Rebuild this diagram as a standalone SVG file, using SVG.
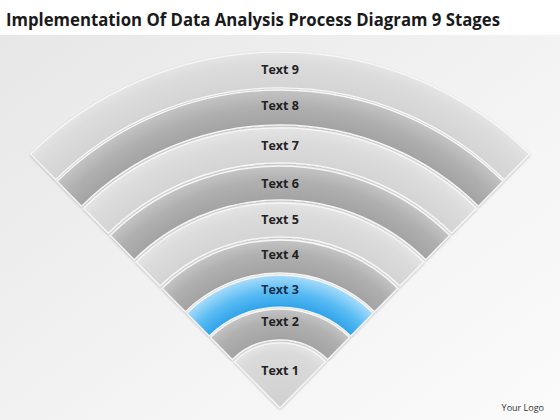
<svg xmlns="http://www.w3.org/2000/svg" width="560" height="420" viewBox="0 0 560 420">
<style>
.lbl{font-family:"Open Sans","Liberation Sans",sans-serif;font-weight:700;font-size:12.5px;fill:#222;text-anchor:middle}
.band{stroke:#f7f7f7;stroke-width:1.3;stroke-linejoin:round;filter:url(#sh)}
</style>
<defs>
<linearGradient id="bg" x1="0" y1="0" x2="1" y2="1">
<stop offset="0" stop-color="#e6e6e6"/><stop offset="0.6" stop-color="#f4f4f4"/><stop offset="1" stop-color="#fbfbfb"/>
</linearGradient>
<filter id="sh" x="-10%" y="-10%" width="120%" height="130%">
<feDropShadow dx="0" dy="1" stdDeviation="1" flood-color="#000" flood-opacity="0.25"/>
</filter>
<radialGradient id="g9" gradientUnits="userSpaceOnUse" cx="280" cy="408" r="356"><stop offset="0.899" stop-color="#d4d4d4"/><stop offset="0.97" stop-color="#dcdcdc"/><stop offset="1" stop-color="#e4e4e4"/></radialGradient>
<radialGradient id="g8" gradientUnits="userSpaceOnUse" cx="280" cy="408" r="318"><stop offset="0.89" stop-color="#a3a3a3"/><stop offset="0.95" stop-color="#b0b0b0"/><stop offset="1" stop-color="#c4c4c4"/></radialGradient>
<radialGradient id="g7" gradientUnits="userSpaceOnUse" cx="280" cy="408" r="280"><stop offset="0.875" stop-color="#d4d4d4"/><stop offset="0.96" stop-color="#dcdcdc"/><stop offset="1" stop-color="#e4e4e4"/></radialGradient>
<radialGradient id="g6" gradientUnits="userSpaceOnUse" cx="280" cy="408" r="242"><stop offset="0.86" stop-color="#a3a3a3"/><stop offset="0.94" stop-color="#b0b0b0"/><stop offset="1" stop-color="#c4c4c4"/></radialGradient>
<radialGradient id="g5" gradientUnits="userSpaceOnUse" cx="280" cy="408" r="205"><stop offset="0.834" stop-color="#d4d4d4"/><stop offset="0.95" stop-color="#dcdcdc"/><stop offset="1" stop-color="#e4e4e4"/></radialGradient>
<radialGradient id="g4" gradientUnits="userSpaceOnUse" cx="280" cy="408" r="168"><stop offset="0.804" stop-color="#a3a3a3"/><stop offset="0.92" stop-color="#b0b0b0"/><stop offset="1" stop-color="#c4c4c4"/></radialGradient>
<radialGradient id="g3" gradientUnits="userSpaceOnUse" cx="280" cy="408" r="133"><stop offset="0.76" stop-color="#2fa3ea"/><stop offset="0.88" stop-color="#5bbcf3"/><stop offset="1" stop-color="#a8dcfa"/></radialGradient>
<radialGradient id="g2" gradientUnits="userSpaceOnUse" cx="280" cy="408" r="99"><stop offset="0.687" stop-color="#a3a3a3"/><stop offset="0.88" stop-color="#b0b0b0"/><stop offset="1" stop-color="#c4c4c4"/></radialGradient>
<radialGradient id="g1" gradientUnits="userSpaceOnUse" cx="280" cy="408" r="65"><stop offset="0" stop-color="#d0d0d0"/><stop offset="0.85" stop-color="#dadada"/><stop offset="1" stop-color="#e4e4e4"/></radialGradient>
</defs>
<rect x="0" y="0" width="560" height="420" fill="url(#bg)"/>
<rect x="0" y="0" width="560" height="35" fill="#ffffff"/>
<text x="6" y="26" font-family="'Open Sans','Liberation Sans',sans-serif" font-weight="700" font-size="18" fill="#1a1a1a" textLength="494" lengthAdjust="spacingAndGlyphs">Implementation Of Data Analysis Process Diagram 9 Stages</text>

<g id="stage9"><path class="band" fill="url(#g9)" d="M30.5,154.1 A356,356 0 0 1 529.5,154.1 L504.3,179.7 A320,320 0 0 0 55.7,179.7 Z"/><text class="lbl" x="280" y="74">Text 9</text></g>
<g id="stage8"><path class="band" fill="url(#g8)" d="M57.1,181.2 A318,318 0 0 1 502.9,181.2 L478.4,206.1 A283,283 0 0 0 81.6,206.1 Z"/><text class="lbl" x="280" y="110">Text 8</text></g>
<g id="stage7"><path class="band" fill="url(#g7)" d="M83.7,208.3 A280,280 0 0 1 476.3,208.3 L451.7,233.2 A245,245 0 0 0 108.3,233.2 Z"/><text class="lbl" x="280" y="150">Text 7</text></g>
<g id="stage6"><path class="band" fill="url(#g6)" d="M110.4,235.4 A242,242 0 0 1 449.6,235.4 L425.8,259.6 A208,208 0 0 0 134.2,259.6 Z"/><text class="lbl" x="280" y="188">Text 6</text></g>
<g id="stage5"><path class="band" fill="url(#g5)" d="M136.3,261.8 A205,205 0 0 1 423.7,261.8 L399.9,286.0 A171,171 0 0 0 160.1,286.0 Z"/><text class="lbl" x="280" y="224">Text 5</text></g>
<g id="stage4"><path class="band" fill="url(#g4)" d="M162.2,288.2 A168,168 0 0 1 397.8,288.2 L374.6,311.7 A135,135 0 0 0 185.4,311.7 Z"/><text class="lbl" x="280" y="259">Text 4</text></g>
<g id="stage3"><path class="band" fill="url(#g3)" d="M186.8,313.1 A133,133 0 0 1 373.2,313.1 L350.8,336.0 A101,101 0 0 0 209.2,336.0 Z"/><text class="lbl" x="280" y="294" style="fill:#14304f">Text 3</text></g>
<g id="stage2"><path class="band" fill="url(#g2)" d="M210.6,337.4 A99,99 0 0 1 349.4,337.4 L327.7,359.5 A68,68 0 0 0 232.3,359.5 Z"/><text class="lbl" x="280" y="326">Text 2</text></g>
<g id="stage1"><path class="band" fill="url(#g1)" d="M234.4,361.6 A65,65 0 0 1 325.6,361.6 L280,408 Z"/><text class="lbl" x="280" y="375">Text 1</text></g>

<text x="544" y="411" font-family="'Open Sans','Liberation Sans',sans-serif" font-size="9" fill="#333" text-anchor="end">Your Logo</text>
</svg>
